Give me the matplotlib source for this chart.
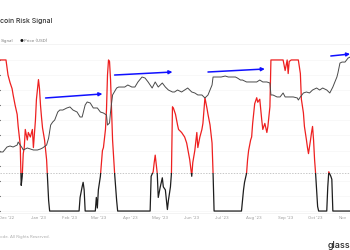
import matplotlib
matplotlib.use("Agg")
import matplotlib.pyplot as plt
from matplotlib.patches import Rectangle
import numpy as np
import pandas as pd

plt.rcParams['font.family'] = ['Inter', 'DejaVu Sans']

START = pd.Timestamp('2022-12-01')

#####   Data   #####
# risk signal, x = days since 1 Dec 2022
sig_days = [-7, -1, 1, 3, 5, 6, 8, 10, 11, 13, 14, 15, 16, 17, 18, 20, 21, 23, 25, 26,
            28, 29, 31, 32, 33, 34, 35, 37, 39, 40, 41, 42, 71, 72, 74, 75, 76, 77, 87, 88,
            89, 90, 92, 94, 95, 97, 98, 99, 100, 101, 102, 103, 104, 106, 108, 109, 141, 142, 144, 145,
            146, 148, 149, 151, 153, 154, 156, 158, 159, 161, 162, 163, 164, 166, 168, 169, 172, 175, 177, 180,
            182, 183, 185, 187, 188, 190, 192, 193, 195, 197, 198, 200, 202, 203, 204, 231, 232, 233, 234, 236,
            237, 238, 240, 241, 242, 244, 246, 247, 249, 251, 252, 254, 256, 257, 259, 260, 272, 274, 276, 277,
            278, 280, 287, 289, 290, 292, 293, 295, 296, 297, 299, 300, 301, 302, 303, 304, 305, 306, 307, 315,
            316, 317, 319, 320, 321, 338]
sig_vals = [1.00, 1.00, 0.90, 0.85, 0.81, 0.77, 0.70, 0.64, 0.56, 0.44, 0.17, 0.23, 0.38, 0.42, 0.54, 0.47, 0.52, 0.49, 0.54, 0.42,
            0.60, 0.74, 0.87, 0.81, 0.70, 0.62, 0.55, 0.47, 0.34, 0.21, 0.07, 0.00, 0.00, 0.09, 0.16, 0.19, 0.14, 0.00, 0.00, 0.09,
            0.02, 0.14, 0.23, 0.40, 0.42, 0.54, 0.67, 0.90, 1.00, 0.99, 0.87, 0.67, 0.47, 0.25, 0.07, 0.00, 0.00, 0.23, 0.26, 0.32,
            0.37, 0.25, 0.09, 0.16, 0.22, 0.16, 0.14, 0.01, 0.07, 0.16, 0.25, 0.69, 0.68, 0.64, 0.57, 0.54, 0.52, 0.49, 0.45, 0.34,
            0.23, 0.32, 0.40, 0.52, 0.42, 0.49, 0.54, 0.58, 0.75, 0.68, 0.64, 0.57, 0.45, 0.25, 0.00, 0.00, 0.07, 0.14, 0.19, 0.25,
            0.34, 0.40, 0.47, 0.49, 0.58, 0.71, 0.75, 0.72, 0.74, 0.60, 0.54, 0.58, 0.52, 0.56, 0.69, 1.00, 1.00, 0.93, 1.00, 0.91,
            0.99, 1.00, 1.00, 0.91, 0.74, 0.65, 0.56, 0.47, 0.42, 0.38, 0.47, 0.52, 0.56, 0.47, 0.34, 0.25, 0.14, 0.03, 0.00, 0.00,
            0.16, 0.26, 0.23, 0.21, 0.00, 0.00]

# BTC price (USD), x = days since 1 Dec 2022
price_days = [-7, -4, 0, 3, 6, 10, 11, 13, 15, 16, 20, 23, 26, 30, 33, 35, 39, 41, 43, 45,
              47, 50, 52, 55, 59, 62, 65, 69, 72, 74, 77, 79, 82, 85, 89, 92, 95, 98, 99, 101,
              102, 104, 108, 110, 113, 116, 119, 123, 126, 129, 133, 136, 139, 143, 146, 149, 153, 156, 159, 163,
              165, 168, 172, 175, 178, 182, 185, 188, 192, 195, 198, 202, 203, 205, 207, 211, 215, 218, 222, 225,
              227, 230, 232, 236, 239, 242, 246, 249, 252, 256, 259, 260, 262, 266, 269, 272, 274, 279, 282, 286,
              287, 289, 292, 295, 298, 301, 305, 308, 311, 315, 318, 321, 323, 325, 326, 328, 330, 333, 336, 338]
price_usd = [16330, 16330, 17020, 17160, 17020, 17300, 17740, 17300, 16880, 16600, 16880, 16740, 16600, 16600, 16740, 16880, 17300, 18340, 20440, 20960,
             21320, 22790, 23170, 23170, 23570, 23770, 23170, 22790, 21860, 21860, 24170, 24780, 24570, 23570, 23570, 22790, 22600, 22230, 20440, 20790,
             22790, 26270, 27840, 28070, 28070, 28070, 28550, 28070, 28070, 29280, 30520, 30260, 29280, 27840, 29280, 28070, 29030, 28070, 27380, 26930,
             26930, 27380, 26930, 27380, 27840, 26930, 26710, 26270, 26270, 25620, 26270, 28550, 30520, 30520, 30520, 30520, 30770, 30520, 30520, 30520,
             30260, 29760, 29760, 29280, 29280, 29280, 29280, 29760, 29280, 29280, 29030, 26270, 26270, 25840, 25840, 26710, 25840, 25840, 25840, 25620,
             25190, 25840, 26710, 26930, 26710, 27380, 27840, 27380, 27840, 27380, 26710, 28070, 29280, 30520, 31560, 34280, 34570, 34570, 35740, 36040]

threshold = 0.25

month_ticks = pd.date_range('2022-12-01', '2023-11-01', freq='MS')
month_labels = [d.strftime("%b '%y") for d in month_ticks]
month_labels[-1] = 'Nov'

# blue trend arrows on the price: (start day, start price, end day, end price)
arrows = [(38, 25620, 94, 26500),
          (106, 31030, 163, 31820),
          (198, 31820, 254, 32630),
          (319, 36370, 338, 36970)]

RED = '#ee2020'
BLACK = '#1e1e1e'

sig_dates = START + pd.to_timedelta(sig_days, unit='D')
price_dates = START + pd.to_timedelta(price_days, unit='D')

#####   Figure   #####
fig = plt.figure(figsize=(3.5, 2.5), dpi=100)
ax = fig.add_axes([0, 0.148, 1, 0.672])

# Signal: red above the threshold, black below
red_line, = ax.plot(sig_dates, sig_vals, color=RED, lw=0.9, zorder=3)
blk_line, = ax.plot(sig_dates, sig_vals, color=BLACK, lw=0.9, zorder=3)
red_line.set_clip_path(Rectangle((-1e6, threshold), 2e6, 10, transform=ax.transData))
blk_line.set_clip_path(Rectangle((-1e6, -10), 2e6, 10 + threshold, transform=ax.transData))

ax.axhline(threshold, color='#b0b0b0', ls=(0, (2, 2)), lw=0.5, zorder=2)

ax.set_xlim(START - pd.Timedelta(days=6.9), START + pd.Timedelta(days=337.9))
ax.set_ylim(-0.013, 1.099)
ax.set_yticks(np.arange(0, 1.01, 0.1))
ax.tick_params(axis='y', left=False, labelleft=False)
ax.grid(axis='y', color='#f5f5f5', lw=0.5)
ax.set_xticks(month_ticks)
ax.set_xticklabels(month_labels)
ax.tick_params(axis='x', length=0, labelsize=3, colors='#9a9a9a', pad=2.5)
ax.get_xticklabels()[-1].set_horizontalalignment('right')
for s in ['top', 'left', 'right']:
    ax.spines[s].set_visible(False)
ax.spines['bottom'].set_color('#eeeeee')
ax.spines['bottom'].set_linewidth(0.5)

# Price on a log axis
ax2 = ax.twinx()
ax2.plot(price_dates, price_usd, color='#4a4a4a', lw=0.7, zorder=4)
ax2.set_yscale('log')
ax2.set_ylim(9813, 39860)
ax2.set_xlim(ax.get_xlim())
ax2.yaxis.set_major_locator(plt.NullLocator())
ax2.yaxis.set_minor_locator(plt.NullLocator())
for s in ax2.spines.values():
    s.set_visible(False)

for d0, p0, d1, p1 in arrows:
    ax2.annotate('', xy=(START + pd.Timedelta(days=d1), p1), xytext=(START + pd.Timedelta(days=d0), p0),
                 arrowprops=dict(arrowstyle='-|>', color='#1010ff', lw=1.1, mutation_scale=5,
                                 shrinkA=0, shrinkB=0), annotation_clip=False)

# Header, legend, footer (the picture is cropped, so only the visible parts of these texts)
fig.text(0.5 / 350, 1 - 21 / 250, 'coin Risk Signal', fontsize=5, color='#333333', va='center', fontweight='medium')
fig.text(0.5 / 350, 1 - 41 / 250, 'Signal', fontsize=3, color='#777777', va='center')
fig.text(20 / 350, 1 - 41 / 250, '\u25cf', fontsize=3, color='#111111', va='center')
fig.text(23.5 / 350, 1 - 41 / 250, 'Price (USD)', fontsize=3, color='#777777', va='center')
fig.add_artist(plt.Line2D([0, 1], [1 - 44 / 250, 1 - 44 / 250], color='#f0f0f0', lw=0.5))
fig.text(0.5 / 350, 1 - 237 / 250, 'ode. All Rights Reserved.', fontsize=3, color='#aaaaaa', va='center')
fig.text(328 / 350, 1 - 245 / 250, 'glass', fontsize=6.5, color='#222222', va='center', fontweight='medium')

fig.savefig('out.png', dpi=100)
